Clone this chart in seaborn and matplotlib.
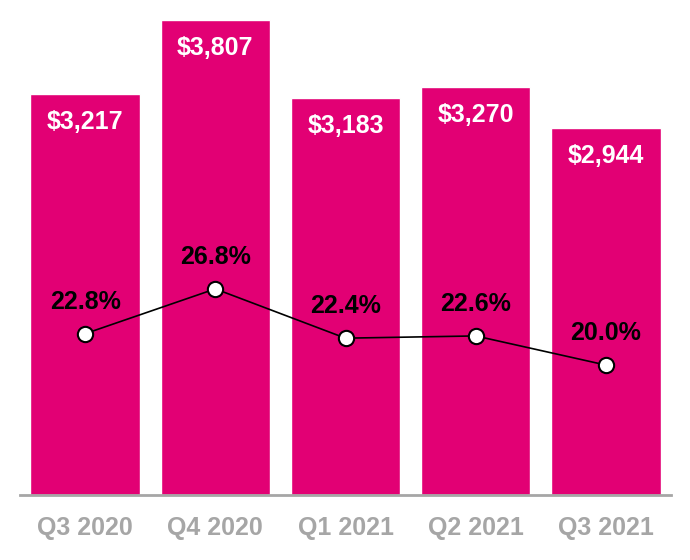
import pandas as pd
import matplotlib
matplotlib.use("Agg")
import matplotlib.pyplot as plt
import seaborn as sns

# Values
quarters = ["Q3 2020", "Q4 2020", "Q1 2021", "Q2 2021", "Q3 2021"]
revenue = [3217, 3807, 3183, 3270, 2944]
margin = [22.8, 26.8, 22.4, 22.6, 20.0]

MAGENTA = "#E20074"
GRAY = "#A6A6A6"


def main():
    sns.set_style("white")
    plt.rcParams["font.family"] = ["Liberation Sans", "DejaVu Sans"]

    df = pd.DataFrame({"quarter": quarters, "revenue": revenue, "margin": margin})

    fig = plt.figure(figsize=(6.9, 5.6), dpi=100)
    ax = fig.add_axes([20 / 690, 65 / 560, 651 / 690, 480 / 560])

    sns.barplot(data=df, x="quarter", y="revenue", color=MAGENTA, saturation=1,
                width=0.84, ax=ax)
    ax.set_ylim(0, 3850)
    ax.set_xlim(-0.5, 4.5)

    for i, v in enumerate(df["revenue"]):
        ax.annotate(f"${v:,}", (i, v), xytext=(0, -20), textcoords="offset points",
                    ha="center", va="center", color="white", fontsize=18,
                    fontweight="bold")

    ax.set_xlabel("")
    ax.set_ylabel("")
    ax.set_yticks([])
    ax.tick_params(axis="x", length=0, pad=15, labelsize=18, labelcolor=GRAY)
    for lbl in ax.get_xticklabels():
        lbl.set_fontweight("bold")
    for s in ["left", "right", "top"]:
        ax.spines[s].set_visible(False)
    ax.spines["bottom"].set_color(GRAY)
    ax.spines["bottom"].set_linewidth(2)

    # margin line on a second axis
    ax2 = ax.twinx()
    sns.pointplot(data=df, x="quarter", y="margin", color="black", errorbar=None,
                  markers="o", linestyles="-", ax=ax2, markersize=11,
                  markerfacecolor="white", markeredgecolor="black",
                  markeredgewidth=1.5, linewidth=1.2)
    ax2.set_ylim(8.4, 51.25)
    ax2.set_xlim(-0.5, 4.5)
    for i, m in enumerate(df["margin"]):
        ax2.annotate(f"{m:.1f}%", (i, m), xytext=(0, 23), textcoords="offset points",
                     ha="center", va="center", color="black", fontsize=18,
                     fontweight="bold")
    ax2.set_yticks([])
    ax2.set_ylabel("")
    ax2.set_xlabel("")
    for s in ax2.spines.values():
        s.set_visible(False)

    fig.savefig("out.png", dpi=100)


if __name__ == "__main__":
    main()
